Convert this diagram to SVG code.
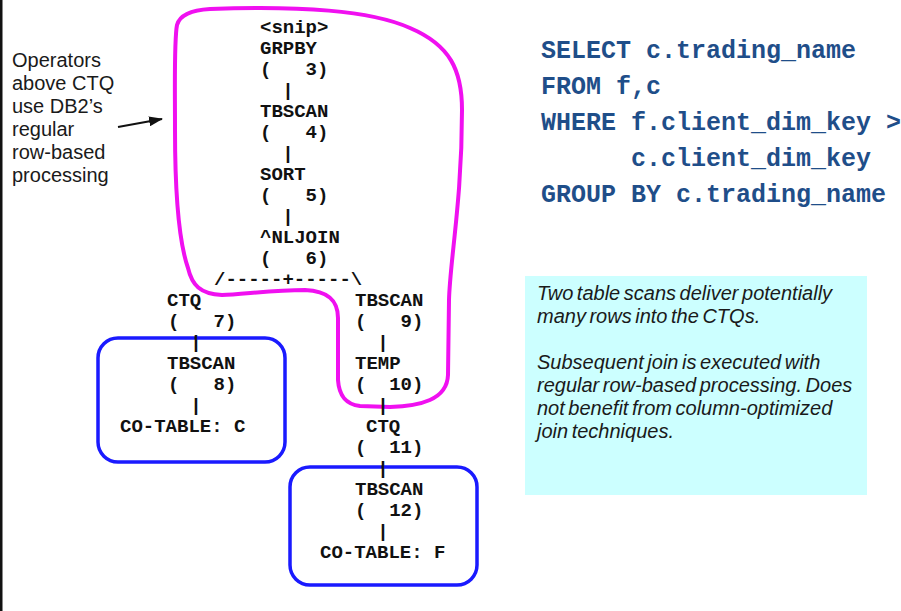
<svg xmlns="http://www.w3.org/2000/svg" width="901" height="611" viewBox="0 0 901 611">
  <style>
    .plan { font-family: "Liberation Mono", "Courier New", monospace; font-weight: bold; font-size: 19px; fill: #111; white-space: pre; }
    .bar { text-anchor: middle; }
    .sql { font-family: "Liberation Mono", "Courier New", monospace; font-weight: bold; font-size: 25px; fill: #1f4e89; white-space: pre; }
    .note { font-family: "Liberation Sans", Arial, sans-serif; font-size: 20px; fill: #1a1a1a; }
    .note-it { font-family: "Liberation Sans", Arial, sans-serif; font-style: italic; font-size: 20px; fill: #1a1a1a; word-spacing: -2px; }
    .cobox { fill: none; stroke: #1a1aff; stroke-width: 3.5; }
    .loop { fill: none; stroke: #f010f0; stroke-width: 4; stroke-linejoin: round; }
  </style>
  <defs>
    <marker id="arrowhead" markerWidth="14" markerHeight="10" refX="13" refY="5" orient="auto" markerUnits="userSpaceOnUse">
      <path d="M0,0 L14,5 L0,10 Z" fill="#111"/>
    </marker>
  </defs>

  <rect x="0" y="0" width="901" height="611" fill="#ffffff"/>
  <rect x="0" y="0" width="2.5" height="611" fill="#111"/>

  <!-- region outlines -->
  <g id="row-region">
    <path class="loop" d="M210,9 C300,6 370,10 410,28 C450,45 462,70 462,110 C462,200 450,260 449,300 L448,375 C447,400 420,406 390,407 L360,406 C345,404 339,395 338,380 L338,318 C338,300 328,291 305,290 C270,290 240,295 222,295 C200,294 192,285 188,268 C180,245 175,200 175,130 C175,80 174,40 177,25 C180,14 192,10 210,9 Z"/>
  </g>
  <g id="co-region-c">
    <rect class="cobox" x="98" y="338" width="187" height="124" rx="20"/>
  </g>
  <g id="co-region-f">
    <rect class="cobox" x="290" y="467" width="187" height="118" rx="20"/>
  </g>

  <!-- plan operators -->
  <g id="snip"><text class="plan" x="260" y="33">&lt;snip&gt;</text></g>
  <g id="op3"><text class="plan" x="260" y="54">GRPBY</text><text class="plan" x="260" y="75">(   3)</text></g>
  <g id="op4"><text class="plan" x="260" y="117">TBSCAN</text><text class="plan" x="260" y="138">(   4)</text></g>
  <g id="op5"><text class="plan" x="260" y="180">SORT</text><text class="plan" x="260" y="201">(   5)</text></g>
  <g id="op6"><text class="plan" x="260" y="243">^NLJOIN</text><text class="plan" x="260" y="264">(   6)</text></g>
  <g id="op7"><text class="plan" x="167" y="306">CTQ</text><text class="plan" x="168" y="327">(   7)</text></g>
  <g id="op8"><text class="plan" x="167" y="369">TBSCAN</text><text class="plan" x="168" y="390">(   8)</text></g>
  <g id="tableC"><text class="plan" x="120" y="432">CO-TABLE: C</text></g>
  <g id="op9"><text class="plan" x="355" y="306">TBSCAN</text><text class="plan" x="355" y="327">(   9)</text></g>
  <g id="op10"><text class="plan" x="355" y="369">TEMP</text><text class="plan" x="355" y="390">(  10)</text></g>
  <g id="op11"><text class="plan" x="366" y="432">CTQ</text><text class="plan" x="355" y="453">(  11)</text></g>
  <g id="op12"><text class="plan" x="355" y="495">TBSCAN</text><text class="plan" x="355" y="516">(  12)</text></g>
  <g id="tableF"><text class="plan" x="320" y="558">CO-TABLE: F</text></g>

  <!-- connectors -->
  <g id="connectors">
    <text class="plan bar" x="288" y="96">|</text>
    <text class="plan bar" x="288" y="159">|</text>
    <text class="plan bar" x="288" y="222">|</text>
    <text class="plan" x="214" y="285">/-----+-----\</text>
    <text class="plan bar" x="196" y="348">|</text>
    <text class="plan bar" x="383" y="348">|</text>
    <text class="plan bar" x="196" y="411">|</text>
    <text class="plan bar" x="383" y="411">|</text>
    <text class="plan bar" x="383" y="474">|</text>
    <text class="plan bar" x="383" y="537">|</text>
    <line x1="118" y1="127" x2="162" y2="119" stroke="#111" stroke-width="2" marker-end="url(#arrowhead)"/>
  </g>

  <!-- left annotation -->
  <g id="row-note">
    <text class="note" x="12" y="67">Operators</text>
    <text class="note" x="12" y="90">above CTQ</text>
    <text class="note" x="12" y="113">use DB2’s</text>
    <text class="note" x="12" y="136">regular</text>
    <text class="note" x="12" y="159">row-based</text>
    <text class="note" x="12" y="182">processing</text>
  </g>

  <!-- query -->
  <g id="query">
    <text class="sql" x="541" y="58">SELECT c.trading_name</text>
    <text class="sql" x="541" y="94">FROM f,c</text>
    <text class="sql" x="541" y="130">WHERE f.client_dim_key &gt;</text>
    <text class="sql" x="541" y="166">      c.client_dim_key</text>
    <text class="sql" x="541" y="202">GROUP BY c.trading_name</text>
  </g>

  <!-- explanation box -->
  <g id="explanation">
    <rect x="525" y="276" width="342" height="219" fill="#ccffff"/>
    <text class="note-it" x="537" y="300">Two table scans deliver potentially</text>
    <text class="note-it" x="537" y="323">many rows into the CTQs.</text>
    <text class="note-it" x="537" y="369">Subsequent join is executed with</text>
    <text class="note-it" x="537" y="392">regular row-based processing. Does</text>
    <text class="note-it" x="537" y="415">not benefit from column-optimized</text>
    <text class="note-it" x="537" y="438">join techniques.</text>
  </g>
</svg>
